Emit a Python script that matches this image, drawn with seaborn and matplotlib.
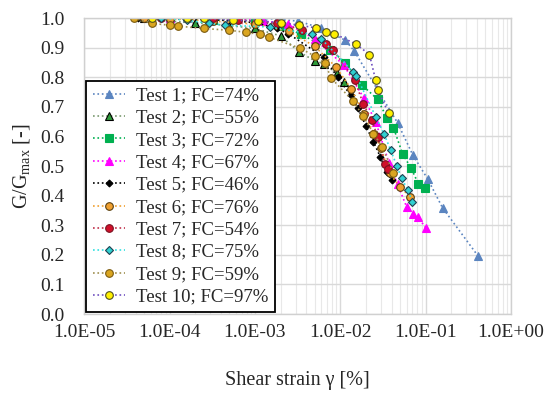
import numpy as np
import pandas as pd
import seaborn as sns
from matplotlib import pyplot as plt
from matplotlib.ticker import LogLocator, FixedLocator, NullFormatter

# shear strain [%] and G/Gmax
strain_1 = [1.6e-4, 5.0e-4, 1.23e-3, 2.0e-3, 3.2e-3, 6.0e-3, 1.15e-2, 1.45e-2, 4.7e-2, 7.1e-2, 1.06e-1, 1.58e-1, 4.1e-1]
ratio_1 = [1.0, 0.995, 1.0, 0.995, 0.99, 0.966, 0.925, 0.89, 0.646, 0.537, 0.456, 0.359, 0.197]
strain_2 = [5.0e-5, 1.0e-4, 2.0e-4, 5.0e-4, 1.0e-3, 2.0e-3, 3.3e-3, 5.0e-3, 6.5e-3, 9.1e-3, 1.12e-2]
ratio_2 = [1.0, 0.99, 0.984, 0.975, 0.965, 0.94, 0.886, 0.856, 0.845, 0.813, 0.785]
strain_3 = [1.0e-4, 3.2e-4, 1.0e-3, 2.0e-3, 3.5e-3, 7.6e-3, 1.15e-2, 1.8e-2, 2.75e-2, 3.55e-2, 4.2e-2, 5.4e-2, 6.8e-2, 8.2e-2, 9.8e-2]
ratio_3 = [1.0, 0.995, 0.99, 0.975, 0.945, 0.893, 0.85, 0.774, 0.725, 0.661, 0.63, 0.54, 0.492, 0.441, 0.425]
strain_4 = [1.0e-4, 3.2e-4, 6.3e-4, 1.26e-3, 2.45e-3, 5.0e-3, 1.1e-2, 1.9e-2, 2.6e-2, 3.75e-2, 4.7e-2, 6.0e-2, 7.2e-2, 8.1e-2, 1.01e-1]
ratio_4 = [1.0, 1.0, 0.998, 0.99, 0.98, 0.93, 0.841, 0.729, 0.65, 0.509, 0.438, 0.362, 0.337, 0.329, 0.29]
strain_5 = [4.3e-5, 1.0e-4, 3.2e-4, 1.0e-3, 1.8e-3, 2.45e-3, 6.5e-3, 9.3e-3, 1.32e-2, 1.62e-2, 2.0e-2, 2.45e-2, 2.95e-2, 3.5e-2, 4.0e-2]
ratio_5 = [1.0, 0.998, 0.995, 0.985, 0.965, 0.948, 0.867, 0.80, 0.74, 0.695, 0.635, 0.582, 0.531, 0.48, 0.453]
strain_6 = [5.0e-5, 1.0e-4, 3.2e-4, 1.0e-3, 2.5e-3, 5.0e-3, 8.9e-3, 1.35e-2, 1.9e-2, 2.5e-2, 3.0e-2, 3.8e-2, 5.0e-2, 6.6e-2]
ratio_6 = [1.0, 0.998, 0.99, 0.98, 0.955, 0.905, 0.835, 0.76, 0.676, 0.61, 0.56, 0.475, 0.43, 0.396]
strain_7 = [7.9e-5, 1.6e-4, 3.2e-4, 6.3e-4, 1.8e-3, 3.6e-3, 6.8e-3, 8.3e-3, 1.48e-2, 1.86e-2, 2.35e-2, 2.75e-2, 3.35e-2, 3.6e-2]
ratio_7 = [1.0, 1.0, 1.0, 0.995, 0.982, 0.961, 0.914, 0.892, 0.79, 0.71, 0.655, 0.597, 0.507, 0.49]
strain_8 = [7.9e-5, 1.6e-4, 2.9e-4, 4.5e-4, 1.5e-3, 4.7e-3, 6.0e-3, 1.41e-2, 1.55e-2, 2.6e-2, 3.25e-2, 3.9e-2, 4.6e-2, 5.25e-2, 6.2e-2, 7.0e-2]
ratio_8 = [1.0, 0.993, 0.982, 0.976, 0.97, 0.945, 0.93, 0.818, 0.804, 0.667, 0.61, 0.554, 0.501, 0.458, 0.419, 0.38]
strain_9 = [3.8e-5, 6.3e-5, 1.0e-4, 1.26e-4, 2.5e-4, 5.0e-4, 7.9e-4, 1.15e-3, 1.48e-3, 3.4e-3, 5.0e-3, 6.6e-3, 7.9e-3, 1.41e-2, 1.86e-2, 2.45e-2, 3.1e-2, 4.2e-2]
ratio_9 = [1.0, 0.982, 0.976, 0.973, 0.965, 0.959, 0.952, 0.945, 0.935, 0.898, 0.872, 0.847, 0.796, 0.72, 0.669, 0.61, 0.565, 0.477]
strain_10 = [6.3e-5, 1.6e-4, 2.5e-4, 5.6e-4, 1.1e-3, 2.0e-3, 3.3e-3, 5.2e-3, 6.9e-3, 8.5e-3, 1.55e-2, 2.2e-2, 2.6e-2, 2.75e-2, 3.7e-2]
ratio_10 = [1.0, 1.0, 1.0, 0.993, 0.99, 0.985, 0.976, 0.967, 0.954, 0.948, 0.911, 0.877, 0.79, 0.757, 0.678]

labels = ['Test 1; FC=74%', 'Test 2; FC=55%', 'Test 3; FC=72%', 'Test 4; FC=67%', 'Test 5; FC=46%',
          'Test 6; FC=76%', 'Test 7; FC=54%', 'Test 8; FC=75%', 'Test 9; FC=59%', 'Test 10; FC=97%']
x_ticks = [1e-5, 1e-4, 1e-3, 1e-2, 1e-1, 1e0]
x_tick_labels = ['1.0E-05', '1.0E-04', '1.0E-03', '1.0E-02', '1.0E-01', '1.0E+00']

strains = [strain_1, strain_2, strain_3, strain_4, strain_5, strain_6, strain_7, strain_8, strain_9, strain_10]
ratios = [ratio_1, ratio_2, ratio_3, ratio_4, ratio_5, ratio_6, ratio_7, ratio_8, ratio_9, ratio_10]

# (marker, face, edge, line colour, size)
styles = [
    ('^', '#5B85C0', '#5B85C0', '#5B85C0', 5.5),
    ('^', '#2E9B3A', '#000000', '#7A9A70', 5.5),
    ('s', '#00B050', '#00B050', '#00B050', 5.5),
    ('^', '#FF00FF', '#FF00FF', '#FF00FF', 5.5),
    ('D', '#000000', '#000000', '#000000', 3.5),
    ('o', '#F0A030', '#5A4010', '#F0A030', 5.5),
    ('o', '#D0102A', '#7A1020', '#C0304A', 5.5),
    ('D', '#30D0D0', '#204050', '#30E0E0', 4.5),
    ('o', '#DAA520', '#7A5A10', '#A09050', 5.5),
    ('o', '#FFF000', '#505020', '#7050C0', 5.5),
]

sns.set_style('whitegrid')
plt.rcParams['font.family'] = ['Liberation Serif', 'DejaVu Serif']

fig = plt.figure(figsize=(5.47, 3.94), dpi=100)
ax = fig.add_axes([0.154, 0.203, 0.78, 0.751])

for i in range(10):
    df = pd.DataFrame({'strain': strains[i], 'ratio': ratios[i]})
    mk, fc, ec, lc, ms = styles[i]
    sns.lineplot(data=df, x='strain', y='ratio', ax=ax, estimator=None, sort=False,
                 color=lc, linestyle=':', linewidth=1.2, marker=mk, markersize=ms,
                 markerfacecolor=fc, markeredgecolor=ec, markeredgewidth=0.8, label=labels[i])

ax.set_xscale('log')
ax.set_xlim(1e-5, 1e0)
ax.set_ylim(0, 1.0)
ax.xaxis.set_major_locator(FixedLocator(x_ticks))
ax.set_xticklabels(x_tick_labels)
ax.xaxis.set_minor_locator(LogLocator(base=10, subs=np.arange(2, 10)))
ax.xaxis.set_minor_formatter(NullFormatter())
ax.set_yticks(np.arange(0, 1.01, 0.1))
ax.set_yticklabels(['{:.1f}'.format(v) for v in np.arange(0, 1.01, 0.1)])
ax.grid(which='major', color='#D9D9D9', linewidth=1.0)
ax.grid(which='minor', axis='x', color='#E8E8E8', linewidth=0.8)
ax.tick_params(axis='both', which='both', length=0, labelsize=14)
ax.tick_params(axis='y', pad=14)
ax.tick_params(axis='x', pad=7)
for sp in ax.spines.values():
    sp.set_color('#D0D0D0')
    sp.set_linewidth(1.0)

ax.set_xlabel('Shear strain \u03b3 [%]', fontsize=14.5, labelpad=22)
ax.set_ylabel('G/G$_{\\mathregular{max}}$ [-]', fontsize=14.5, labelpad=6)

leg = ax.legend(loc='lower left', bbox_to_anchor=(0.0, 0.0), fontsize=13.5, frameon=True,
                fancybox=False, edgecolor='black', framealpha=1.0, borderpad=0.35,
                labelspacing=0.28, handlelength=1.7, handletextpad=0.6, borderaxespad=0.1)
leg.get_frame().set_linewidth(1.3)

fig.savefig('out.png', dpi=100)
plt.close(fig)
